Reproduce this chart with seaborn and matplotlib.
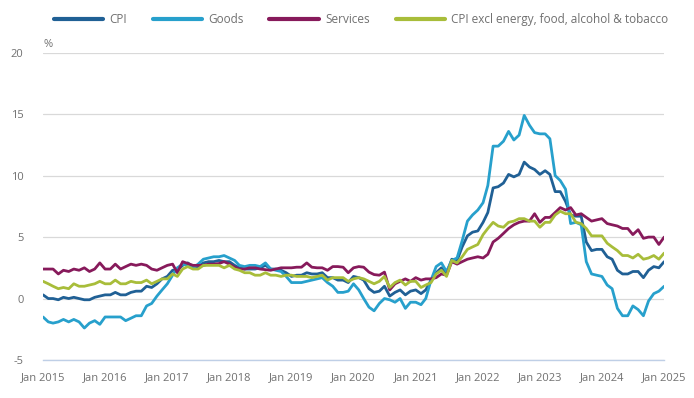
import matplotlib.pyplot as plt
import pandas as pd
import seaborn as sns

# Annual rates, %, monthly from Jan 2015 to Jan 2025
cpi = [
    0.3, 0.0, 0.0, -0.1, 0.1, 0.0, 0.1, 0.0, -0.1, -0.1, 0.1, 0.2,
    0.3, 0.3, 0.5, 0.3, 0.3, 0.5, 0.6, 0.6, 1.0, 0.9, 1.2, 1.6,
    1.8, 2.3, 2.3, 2.7, 2.9, 2.6, 2.6, 2.9, 3.0, 3.0, 3.1, 3.0,
    3.0, 2.7, 2.5, 2.4, 2.4, 2.4, 2.5, 2.7, 2.4, 2.4, 2.3, 2.1,
    1.8, 1.9, 1.9, 2.1, 2.0, 2.0, 2.1, 1.7, 1.7, 1.5, 1.5, 1.3,
    1.8, 1.7, 1.5, 0.8, 0.5, 0.6, 1.0, 0.2, 0.5, 0.7, 0.3, 0.6,
    0.7, 0.4, 0.7, 1.5, 2.1, 2.5, 2.0, 3.2, 3.1, 4.2, 5.1, 5.4,
    5.5, 6.2, 7.0, 9.0, 9.1, 9.4, 10.1, 9.9, 10.1, 11.1, 10.7, 10.5,
    10.1, 10.4, 10.1, 8.7, 8.7, 7.9, 6.8, 6.7, 6.7, 4.6, 3.9, 4.0,
    4.0, 3.4, 3.2, 2.3, 2.0, 2.0, 2.2, 2.2, 1.7, 2.3, 2.6, 2.5,
    3.0,
]
goods = [
    -1.5, -1.9, -2.0, -1.9, -1.7, -1.9, -1.7, -1.9, -2.4, -2.0, -1.8, -2.1,
    -1.5, -1.5, -1.5, -1.5, -1.8, -1.6, -1.4, -1.4, -0.6, -0.4, 0.2, 0.7,
    1.2, 1.9, 2.5, 2.8, 2.7, 2.5, 2.8, 3.2, 3.3, 3.4, 3.4, 3.5,
    3.3, 3.1, 2.7, 2.6, 2.7, 2.7, 2.6, 2.9, 2.4, 2.3, 2.2, 1.8,
    1.3, 1.3, 1.3, 1.4, 1.5, 1.6, 1.7, 1.3, 1.0, 0.5, 0.5, 0.6,
    1.2, 0.7, 0.0, -0.7, -1.0, -0.4, 0.0, -0.1, -0.3, 0.0, -0.8, -0.3,
    -0.3, -0.5, 0.0, 1.5, 2.6, 2.9, 2.2, 3.1, 3.3, 4.7, 6.3, 6.8,
    7.2, 7.8, 9.2, 12.4, 12.4, 12.8, 13.6, 12.9, 13.3, 14.9, 14.1, 13.5,
    13.4, 13.4, 13.0, 10.0, 9.6, 8.9, 6.1, 6.2, 6.0, 3.0, 2.0, 1.9,
    1.8, 1.1, 0.8, -0.8, -1.4, -1.4, -0.6, -0.9, -1.4, -0.2, 0.4, 0.6,
    1.0,
]
services = [
    2.4, 2.4, 2.4, 2.0, 2.3, 2.2, 2.4, 2.3, 2.5, 2.2, 2.4, 2.9,
    2.4, 2.4, 2.8, 2.4, 2.6, 2.8, 2.7, 2.8, 2.7, 2.4, 2.3, 2.5,
    2.7, 2.8, 2.1, 3.0, 2.85, 2.7, 2.7, 2.7, 2.8, 2.8, 2.85, 3.0,
    2.8, 2.55, 2.4, 2.4, 2.5, 2.5, 2.4, 2.35, 2.3, 2.4, 2.5, 2.5,
    2.5, 2.55, 2.55, 2.9, 2.55, 2.5, 2.5, 2.3, 2.6, 2.6, 2.55, 2.1,
    2.5, 2.6, 2.55, 2.15, 1.95, 1.9, 2.15, 0.7, 1.2, 1.4, 1.6, 1.4,
    1.7, 1.5, 1.6, 1.6, 1.7, 2.0, 1.9, 3.0, 2.8, 3.0, 3.2, 3.3,
    3.4, 3.3, 3.6, 4.6, 4.9, 5.3, 5.7, 6.0, 6.2, 6.3, 6.3, 6.9,
    6.2, 6.6, 6.6, 7.0, 7.4, 7.2, 7.4, 6.8, 6.9, 6.6, 6.3, 6.4,
    6.5, 6.1, 6.0, 5.9, 5.7, 5.7, 5.2, 5.6, 4.9, 5.0, 5.0, 4.4,
    5.0,
]
core = [
    1.4, 1.2, 1.0, 0.8, 0.9, 0.8, 1.2, 1.0, 1.0, 1.1, 1.2, 1.4,
    1.2, 1.2, 1.5, 1.2, 1.2, 1.4, 1.3, 1.3, 1.5, 1.2, 1.4, 1.6,
    1.6, 2.0, 1.8, 2.4, 2.6, 2.4, 2.4, 2.7, 2.7, 2.7, 2.7, 2.5,
    2.7, 2.4, 2.3, 2.1, 2.1, 1.9, 1.9, 2.1, 1.9, 1.9, 1.8, 1.9,
    1.9, 1.8, 1.8, 1.8, 1.7, 1.8, 1.9, 1.5, 1.7, 1.7, 1.7, 1.4,
    1.6, 1.7, 1.6, 1.4, 1.2, 1.4, 1.8, 0.9, 1.3, 1.5, 1.1, 1.4,
    1.4, 0.9, 1.1, 1.3, 2.0, 2.3, 1.8, 3.1, 2.9, 3.4, 4.0, 4.2,
    4.4, 5.2, 5.7, 6.2, 5.9, 5.8, 6.2, 6.3, 6.5, 6.5, 6.3, 6.3,
    5.8, 6.2, 6.2, 6.8, 7.1, 6.9, 6.9, 6.2, 6.1, 5.7, 5.1, 5.1,
    5.1, 4.5, 4.2, 3.9, 3.5, 3.5, 3.3, 3.6, 3.2, 3.3, 3.5, 3.2,
    3.7,
]

series_names = ["CPI", "Goods", "Services", "CPI excl energy, food, alcohol & tobacco"]
series_colors = ["#206095", "#27a0cc", "#871a5b", "#a8bd3a"]
year_labels = [f"Jan {y}" for y in range(2015, 2026)]

months = pd.date_range("2015-01-01", periods=len(cpi), freq="MS")
df = pd.DataFrame({"month": months, "CPI": cpi, "Goods": goods,
                   "Services": services, series_names[3]: core})
long_df = df.melt(id_vars="month", var_name="series", value_name="rate")

sns.set_theme(style="white")
plt.rcParams["font.family"] = ["Open Sans", "DejaVu Sans"]
plt.rcParams["axes.unicode_minus"] = False

fig = plt.figure(figsize=(6.94, 3.98), dpi=100)
ax = fig.add_axes([0.062, 0.0955, 0.895, 0.772])

sns.lineplot(data=long_df, x="month", y="rate", hue="series",
             hue_order=series_names, palette=series_colors,
             linewidth=2.0, ax=ax, legend=False)

ax.set_ylim(-5, 20)
ax.set_xlim(months[0], months[-1])
ax.set_yticks([-5, 0, 5, 10, 15, 20])
ax.set_xticks(pd.date_range("2015-01-01", "2025-01-01", freq="YS"))
ax.set_xticklabels(year_labels)
ax.grid(axis="y", color="#d9d9d9", linewidth=0.9)
ax.set_axisbelow(True)
for s in ["top", "right", "left"]:
    ax.spines[s].set_visible(False)
ax.spines["bottom"].set_color("#bfcfe6")
ax.spines["bottom"].set_linewidth(1.0)
ax.tick_params(axis="x", length=5, color="#bfcfe6", colors="#707070",
               labelsize=8, pad=4)
ax.tick_params(axis="y", length=0, colors="#707070", labelsize=8, pad=14)
for lbl in ax.get_xticklabels() + ax.get_yticklabels():
    lbl.set_color("#707070")
ax.set_xlabel("")
ax.set_ylabel("")
ax.text(0.0, 1.008, "%", transform=ax.transAxes, fontsize=8, color="#707070",
        ha="left", va="bottom")

handles = [plt.Line2D([], [], color=c, linewidth=3) for c in series_colors]
leg = fig.legend(handles, series_names, loc="upper center", ncol=4,
                 frameon=False, bbox_to_anchor=(0.52, 0.993), fontsize=8.5,
                 handlelength=4.2, columnspacing=2.2, handletextpad=0.5)
for t in leg.get_texts():
    t.set_color("#707070")

fig.savefig("out.png", dpi=100)
